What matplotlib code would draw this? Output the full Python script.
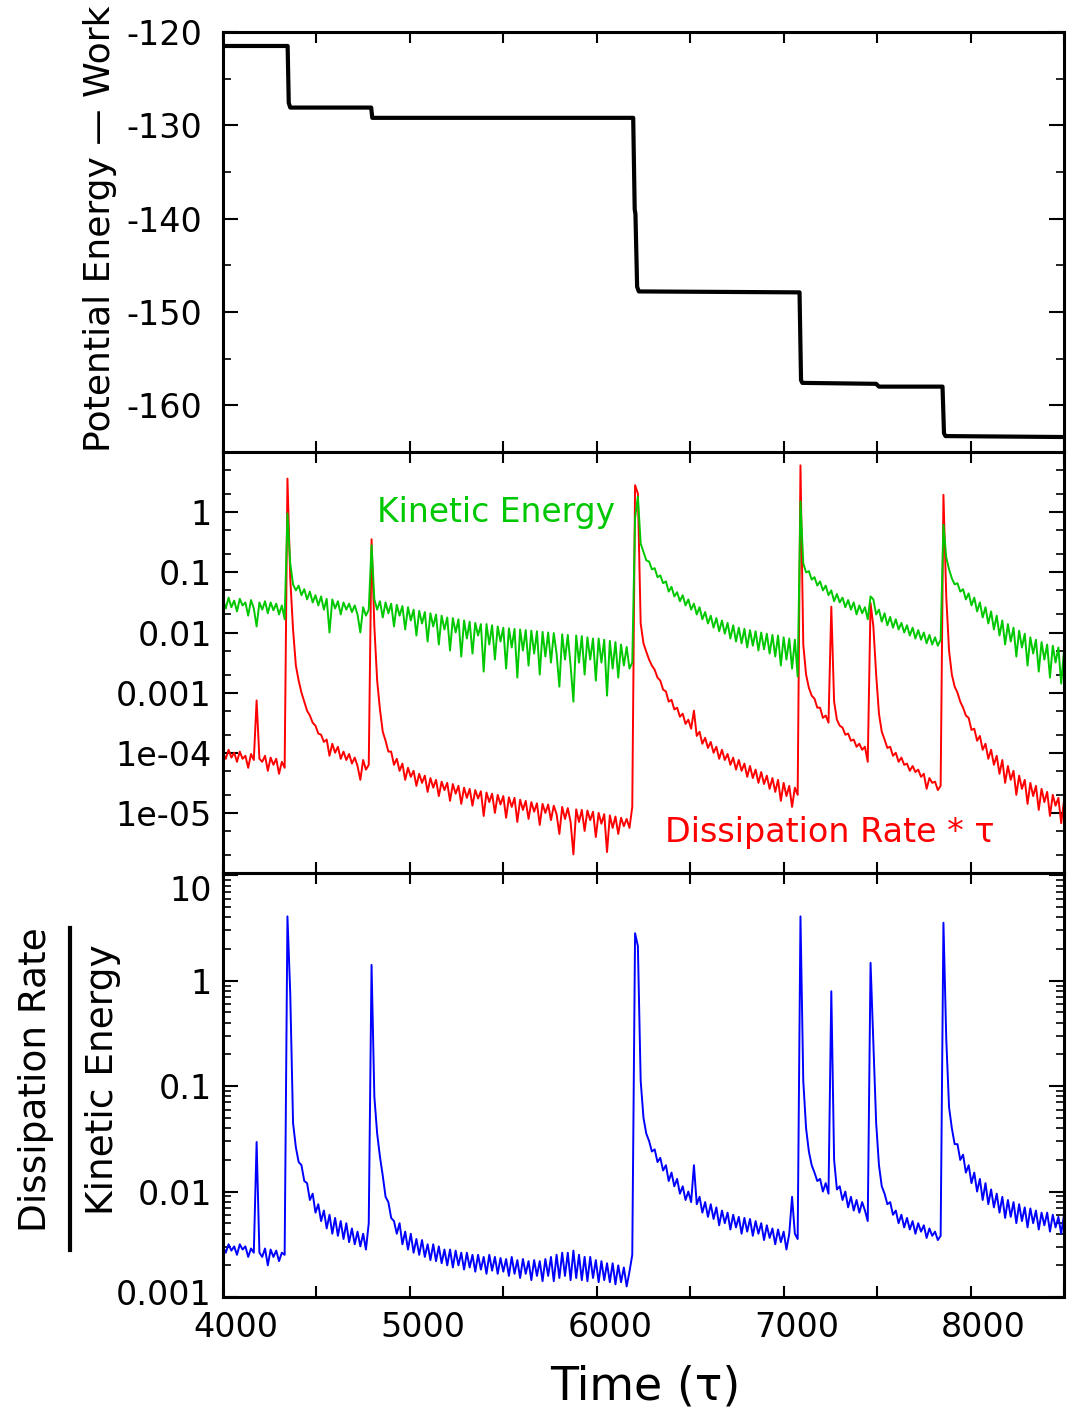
import numpy as np
import matplotlib
matplotlib.use("Agg")
import matplotlib.pyplot as plt
import matplotlib.transforms as mtransforms
from matplotlib.lines import Line2D
from matplotlib.ticker import MultipleLocator, FixedLocator, FixedFormatter, LogLocator, NullFormatter, FuncFormatter

plt.rcParams['axes.unicode_minus'] = False

# time samples, one every 15 tau
t = np.arange(4000, 8501, 15)

# potential energy minus work: plateaus and the drops between them
pe_t = [4000, 4346, 4352, 4360, 4793, 4799, 6195, 6203, 6207, 6216, 6225,
        7085, 7093, 7100, 7495, 7510, 7850, 7858, 7866, 8500]
pe_v = [-121.5, -121.5, -127.6, -128.1, -128.1, -129.2, -129.2, -139.0, -139.5, -147.3, -147.8,
        -147.9, -157.3, -157.6, -157.7, -158.0, -158.0, -163.0, -163.3, -163.4]

# log10 of kinetic energy
ke_log = np.array("""
-1.45 -1.60 -1.42 -1.58 -1.47 -1.65 -1.44 -1.55 -1.50 -1.72
-1.46 -1.60 -1.90 -1.50 -1.62 -1.48 -1.68 -1.50 -1.63 -1.52
-1.70 -1.55 -1.78 -0.02 -0.85 -1.20 -1.30 -1.22 -1.38 -1.28
-1.45 -1.32 -1.50 -1.38 -1.55 -1.40 -1.62 -1.44 -2.00 -1.45
-1.60 -1.48 -1.70 -1.50 -1.62 -1.52 -1.66 -1.55 -1.70 -2.00
-1.58 -1.72 -1.62 -0.55 -1.45 -1.62 -1.48 -1.75 -1.50 -1.68
-1.52 -1.90 -1.54 -1.72 -1.56 -1.95 -1.58 -1.80 -1.62 -2.05
-1.64 -1.85 -1.66 -2.15 -1.68 -1.90 -1.70 -2.20 -1.72 -1.95
-1.75 -2.30 -1.76 -2.00 -1.78 -2.40 -1.80 -2.10 -1.82 -2.35
-1.84 -2.05 -1.86 -2.65 -1.86 -2.20 -1.88 -2.45 -1.90 -2.15
-1.92 -2.60 -1.93 -2.25 -1.94 -2.75 -1.95 -2.30 -1.96 -2.55
-1.97 -2.35 -1.98 -2.70 -1.99 -2.40 -2.00 -2.50 -2.01 -2.35
-2.90 -2.03 -2.45 -2.04 -2.55 -3.15 -2.05 -2.50 -2.06 -2.70
-2.08 -2.45 -2.10 -2.80 -2.10 -2.50 -2.12 -3.05 -2.14 -2.60
-2.16 -2.75 -2.20 -2.55 -2.24 -2.60 -2.50 -0.10 0.26 -0.52
-0.66 -0.80 -0.82 -0.95 -0.93 -1.08 -1.05 -1.18 -1.15 -1.32
-1.24 -1.40 -1.33 -1.48 -1.38 -1.55 -1.45 -1.62 -1.52 -1.70
-1.58 -1.78 -1.66 -1.85 -1.72 -1.92 -1.76 -1.98 -1.80 -2.02
-1.84 -2.10 -1.88 -2.15 -1.92 -2.18 -1.94 -2.25 -1.96 -2.22
-1.98 -2.30 -2.00 -2.28 -2.02 -2.35 -2.04 -2.40 -2.05 -2.55
-2.08 -2.45 -2.10 -2.60 -2.12 -2.73 0.18 -0.85 -1.00 -0.98
-1.12 -1.08 -1.22 -1.15 -1.30 -1.22 -1.38 -1.30 -1.48 -1.36
-1.50 -1.42 -1.58 -1.46 -1.62 -1.50 -1.70 -1.55 -1.68 -1.58
-1.78 -1.40 -1.45 -1.70 -1.62 -1.82 -1.68 -1.88 -1.74 -1.92
-1.78 -1.95 -1.84 -2.00 -1.88 -2.05 -1.92 -2.10 -1.96 -2.12
-2.00 -2.18 -2.04 -2.20 -2.08 -2.22 -2.12 -0.21 -0.75 -0.95
-1.10 -1.20 -1.18 -1.32 -1.28 -1.45 -1.35 -1.55 -1.42 -1.65
-1.50 -1.75 -1.58 -1.85 -1.65 -1.95 -1.72 -2.05 -1.80 -2.20
-1.86 -2.15 -1.92 -2.40 -1.97 -2.25 -2.02 -2.55 -2.08 -2.35
-2.12 -2.65 -2.16 -2.45 -2.20 -2.75 -2.22 -2.50 -2.25 -2.85
-2.30
""".split(), dtype=float)

# log10 of dissipation rate * tau
de_log = np.array("""
-4.00 -4.10 -3.95 -4.08 -4.00 -4.15 -3.98 -4.10 -4.05 -4.25
-4.02 -4.12 -3.13 -4.10 -4.15 -4.05 -4.30 -4.08 -4.20 -4.10
-4.35 -4.15 -4.25 0.56 -1.10 -1.95 -2.55 -2.80 -3.00 -3.15
-3.30 -3.38 -3.50 -3.55 -3.68 -3.70 -3.82 -3.78 -4.05 -3.85
-4.00 -3.90 -4.10 -3.98 -4.12 -4.02 -4.18 -4.08 -4.22 -4.45
-4.12 -4.28 -4.20 -0.45 -1.90 -2.80 -3.28 -3.65 -3.80 -3.98
-3.98 -4.20 -4.10 -4.30 -4.18 -4.45 -4.25 -4.40 -4.30 -4.55
-4.35 -4.50 -4.38 -4.65 -4.42 -4.58 -4.45 -4.72 -4.48 -4.62
-4.50 -4.80 -4.52 -4.68 -4.55 -4.85 -4.58 -4.75 -4.60 -4.88
-4.62 -4.76 -4.64 -5.05 -4.66 -4.82 -4.68 -5.00 -4.70 -4.86
-4.72 -5.08 -4.74 -4.90 -4.75 -5.15 -4.78 -4.95 -4.80 -5.10
-4.82 -4.98 -4.84 -5.20 -4.85 -5.00 -4.86 -5.12 -4.88 -5.02
-5.35 -4.90 -5.10 -4.92 -5.15 -5.69 -4.94 -5.15 -4.95 -5.30
-4.96 -5.12 -4.98 -5.40 -5.00 -5.18 -5.02 -5.65 -5.04 -5.25
-5.06 -5.35 -5.08 -5.22 -5.10 -5.25 -4.90 0.45 0.31 -1.85
-2.18 -2.32 -2.45 -2.55 -2.62 -2.75 -2.80 -2.95 -2.98 -3.15
-3.12 -3.28 -3.25 -3.40 -3.35 -3.52 -3.45 -3.60 -3.30 -3.72
-3.65 -3.85 -3.75 -3.92 -3.82 -4.00 -3.90 -4.10 -3.95 -4.12
-4.02 -4.20 -4.08 -4.28 -4.12 -4.30 -4.18 -4.40 -4.22 -4.42
-4.28 -4.50 -4.32 -4.52 -4.38 -4.60 -4.42 -4.65 -4.45 -4.80
-4.50 -4.72 -4.55 -4.90 -4.58 -4.70 0.78 -2.20 -2.70 -2.92
-3.05 -3.10 -3.25 -3.25 -3.42 -3.38 -3.50 -1.57 -3.15 -3.45
-3.55 -3.58 -3.70 -3.68 -3.80 -3.78 -3.90 -3.85 -3.95 -3.90
-4.15 -1.51 -1.90 -2.70 -3.35 -3.65 -3.78 -3.92 -3.90 -4.05
-4.00 -4.15 -4.08 -4.20 -4.18 -4.30 -4.22 -4.32 -4.28 -4.40
-4.35 -4.60 -4.42 -4.50 -4.48 -4.62 -4.55 0.29 -1.40 -2.30
-2.70 -2.90 -3.00 -3.15 -3.25 -3.38 -3.42 -3.62 -3.60 -3.80
-3.72 -3.95 -3.85 -4.10 -3.95 -4.20 -4.05 -4.35 -4.12 -4.50
-4.22 -4.45 -4.30 -4.70 -4.38 -4.60 -4.45 -4.85 -4.50 -4.72
-4.55 -4.95 -4.60 -4.82 -4.65 -5.05 -4.70 -4.88 -4.75 -5.17
-4.80
""".split(), dtype=float)

# log10 of dissipation rate / kinetic energy
rk_log = np.array("""
-2.52 -2.58 -2.50 -2.56 -2.52 -2.60 -2.50 -2.55 -2.52 -2.62
-2.54 -2.58 -1.53 -2.58 -2.62 -2.54 -2.70 -2.55 -2.62 -2.56
-2.66 -2.58 -2.60 0.61 -0.12 -1.35 -1.58 -1.72 -1.75 -1.90
-1.92 -2.08 -2.02 -2.20 -2.12 -2.28 -2.18 -2.35 -2.22 -2.40
-2.25 -2.42 -2.28 -2.45 -2.30 -2.48 -2.35 -2.50 -2.38 -2.52
-2.40 -2.55 -2.30 0.15 -1.10 -1.45 -1.67 -1.85 -2.05 -2.10
-2.25 -2.28 -2.40 -2.30 -2.50 -2.38 -2.55 -2.40 -2.58 -2.45
-2.60 -2.46 -2.62 -2.50 -2.65 -2.50 -2.66 -2.52 -2.68 -2.55
-2.70 -2.55 -2.72 -2.56 -2.70 -2.58 -2.74 -2.58 -2.72 -2.60
-2.76 -2.60 -2.74 -2.62 -2.78 -2.60 -2.75 -2.62 -2.78 -2.63
-2.76 -2.64 -2.80 -2.62 -2.78 -2.65 -2.82 -2.64 -2.78 -2.66
-2.84 -2.65 -2.80 -2.66 -2.85 -2.64 -2.80 -2.62 -2.85 -2.60
-2.82 -2.58 -2.80 -2.58 -2.84 -2.56 -2.82 -2.60 -2.84 -2.62
-2.85 -2.62 -2.82 -2.65 -2.86 -2.66 -2.84 -2.68 -2.86 -2.68
-2.88 -2.70 -2.86 -2.72 -2.90 -2.76 -2.60 0.45 0.33 -0.95
-1.30 -1.45 -1.52 -1.62 -1.60 -1.72 -1.68 -1.80 -1.75 -1.90
-1.82 -1.95 -1.88 -2.02 -1.95 -2.08 -2.00 -2.10 -1.75 -2.12
-2.05 -2.20 -2.10 -2.24 -2.12 -2.26 -2.15 -2.32 -2.18 -2.30
-2.20 -2.36 -2.22 -2.34 -2.24 -2.40 -2.25 -2.38 -2.26 -2.42
-2.28 -2.40 -2.30 -2.46 -2.32 -2.44 -2.35 -2.50 -2.36 -2.48
-2.38 -2.55 -2.40 -2.05 -2.40 -2.45 0.61 -0.95 -1.40 -1.62
-1.75 -1.82 -1.90 -1.88 -2.00 -1.92 -2.02 -0.10 -1.70 -1.98
-1.95 -2.08 -2.00 -2.15 -2.05 -2.18 -2.08 -2.20 -2.10 -2.18
-2.28 0.17 -0.60 -1.35 -1.75 -1.95 -2.02 -2.12 -2.10 -2.22
-2.18 -2.30 -2.22 -2.34 -2.25 -2.36 -2.28 -2.40 -2.30 -2.38
-2.32 -2.44 -2.35 -2.42 -2.38 -2.46 -2.42 0.55 -0.55 -1.20
-1.40 -1.55 -1.55 -1.70 -1.65 -1.82 -1.75 -1.92 -1.82 -2.00
-1.88 -2.08 -1.92 -2.12 -1.98 -2.15 -2.02 -2.20 -2.05 -2.25
-2.08 -2.24 -2.10 -2.30 -2.12 -2.28 -2.15 -2.34 -2.16 -2.30
-2.18 -2.36 -2.20 -2.32 -2.20 -2.38 -2.22 -2.34 -2.24 -2.40
-2.22
""".split(), dtype=float)

kinetic = 10 ** ke_log
dissipation = 10 ** de_log
ratio = 10 ** rk_log

green = '#00c800'

fig = plt.figure(figsize=(10.73, 14.15), dpi=100)
axTop = fig.add_axes([0.2078, 0.6806, 0.7838, 0.2968])
axMid = fig.add_axes([0.2078, 0.3830, 0.7838, 0.2975])
axBot = fig.add_axes([0.2078, 0.0834, 0.7838, 0.2996])


def styleAxis(ax, ypad):
    ax.set_xlim(4000, 8500)
    ax.xaxis.set_major_locator(MultipleLocator(500))
    ax.tick_params(axis='both', which='both', direction='in', top=True, right=True, labelsize=24)
    ax.tick_params(axis='x', which='major', length=8, width=1.5, pad=10)
    ax.tick_params(axis='y', which='major', length=11, width=1.5, pad=ypad)
    ax.tick_params(axis='y', which='minor', length=6, width=1.2)
    for spine in ax.spines.values():
        spine.set_linewidth(2.2)


# top: potential energy - work
axTop.plot(pe_t, pe_v, color='black', lw=3)
styleAxis(axTop, 15)
axTop.set_ylim(-165, -120)
axTop.set_yticks([-120, -130, -140, -150, -160])
axTop.yaxis.set_minor_locator(MultipleLocator(5))
axTop.tick_params(labelbottom=False)

# middle: kinetic energy and dissipation on log scale
axMid.plot(t, dissipation, color='red', lw=1.4)
axMid.plot(t, kinetic, color=green, lw=1.4)
axMid.set_yscale('log')
axMid.set_ylim(1e-6, 10)
midTicks = [1, 0.1, 0.01, 0.001, 1e-4, 1e-5]
axMid.yaxis.set_major_locator(FixedLocator(midTicks))
axMid.yaxis.set_major_formatter(FixedFormatter(['1', '0.1', '0.01', '0.001', '1e-04', '1e-05']))
axMid.yaxis.set_minor_locator(LogLocator(base=10, subs=(2.0, 5.0), numticks=20))
axMid.yaxis.set_minor_formatter(NullFormatter())
styleAxis(axMid, 8)
axMid.tick_params(labelbottom=False)
axMid.text(0.325, 0.857, 'Kinetic Energy', color=green, fontsize=23.7,
           ha='center', va='center', transform=axMid.transAxes)
axMid.text(0.722, 0.097, 'Dissipation Rate * τ', color='red', fontsize=24,
           ha='center', va='center', transform=axMid.transAxes)

# bottom: ratio dissipation / kinetic energy
axBot.plot(t, ratio, color='blue', lw=1.4)
axBot.set_yscale('log')
axBot.set_ylim(1e-3, 10.5)
botTicks = [1e-3, 1e-2, 0.1, 1, 10]
axBot.yaxis.set_major_locator(FixedLocator(botTicks))
axBot.yaxis.set_major_formatter(FixedFormatter(['0.001', '0.01', '0.1', '1', '10']))
axBot.yaxis.set_minor_locator(LogLocator(base=10, subs=np.arange(2, 10), numticks=20))
axBot.yaxis.set_minor_formatter(NullFormatter())
styleAxis(axBot, 8)
axBot.xaxis.set_major_formatter(FuncFormatter(lambda v, pos: '%d' % v if v % 1000 == 0 else ''))

# nudge the time labels a little to the right
shift = mtransforms.ScaledTranslation(13 / 100, 0, fig.dpi_scale_trans)
for tick in axBot.xaxis.get_major_ticks():
    tick.label1.set_transform(tick.label1.get_transform() + shift)

# keep the top "10" inside its own panel, lift "0.001" off the corner
botLabels = axBot.yaxis.get_major_ticks()
botLabels[-1].label1.set_transform(botLabels[-1].label1.get_transform()
                                   + mtransforms.ScaledTranslation(0, -13 / 100, fig.dpi_scale_trans))
botLabels[0].label1.set_transform(botLabels[0].label1.get_transform()
                                  + mtransforms.ScaledTranslation(0, 5 / 100, fig.dpi_scale_trans))

fig.text(0.601, 0.020, 'Time (τ)', fontsize=33, ha='center', va='center')
fig.text(0.0932, 0.838, 'Potential Energy — Work', fontsize=26, rotation=90,
         ha='center', va='center')
fig.text(0.0336, 0.2367, 'Dissipation Rate', fontsize=27, rotation=90, ha='center', va='center')
fig.text(0.0960, 0.2367, 'Kinetic Energy', fontsize=27, rotation=90, ha='center', va='center')
fig.add_artist(Line2D([0.0652, 0.0652], [0.344, 0.1166], transform=fig.transFigure,
                      color='black', lw=3))

fig.savefig('out.png', dpi=100)
